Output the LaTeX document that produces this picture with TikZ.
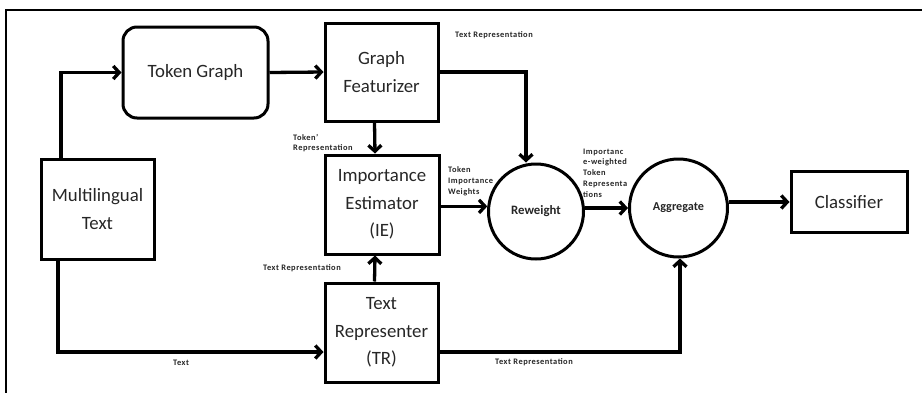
\documentclass[tikz,border=0pt]{standalone}
\usepackage{fontspec}
\setmainfont{Carlito}
\newfontfamily\lblfont[LetterSpace=6]{Carlito}
\usetikzlibrary{arrows.meta}

\begin{document}
\begin{tikzpicture}[x=1pt,y=-1pt,
  every node/.style={text=black!85},
  block/.style={draw, line width=3pt, inner sep=0pt, align=center,
                font=\fontsize{18.8}{27.5}\selectfont},
  roundblock/.style={block, rounded corners=14pt},
  disc/.style={draw, circle, line width=3pt, inner sep=0pt},
  arr/.style={line width=3.3pt, -{Straight Barb[length=6pt,width=13pt]}},
  lbl/.style={anchor=west, inner sep=0pt, align=left,
              font=\lblfont\bfseries\fontsize{8.4}{10.8}\selectfont}]

\useasboundingbox (0,0) rectangle (922,392);

% outer frame
\draw[line width=2.6pt] (6,420) -- (6,10) -- (950,10);

% blocks
\node[roundblock, minimum width=145pt, minimum height=91pt] (tg) at (195.5,72.5) {Token Graph};
\node[block, minimum width=113pt, minimum height=98pt] (gf) at (381.5,72) {Graph\\Featurizer};
\node[block, minimum width=113pt, minimum height=100pt] (mt) at (97.5,209) {Multilingual\\Text};
\node[block, minimum width=114pt, minimum height=99pt] (ie) at (382,204.5) {Importance\\Estimator\\(IE)};
\node[block, minimum width=113pt, minimum height=99pt] (tr) at (381.5,332.5) {Text\\Representer\\(TR)};
\node[disc, minimum size=95pt, font=\bfseries\fontsize{12.8}{14}\selectfont] (rw) at (536,211.5) {Reweight};
\node[disc, minimum size=98pt, font=\bfseries\fontsize{12.2}{14}\selectfont] (ag) at (678.5,208) {Aggregate};
\node[block, minimum width=116pt, minimum height=61pt] (cl) at (849,202) {Classifier};

\coordinate (ybot) at (0,352);

% connectors
\draw[arr] ([xshift=-36.5pt]mt.north) |- (tg.west);
\draw[arr] (tg.east) -- (gf.west);
\draw[arr] (gf.east) -| ([xshift=-10pt]rw.north);
\draw[arr] ([xshift=-7pt]gf.south) -- ([xshift=-7pt]ie.north);
\draw[arr] ([xshift=-7pt]tr.north) -- ([xshift=-7pt]ie.south);
\draw[arr] ([xshift=-39.5pt]mt.south) |- (tr.west |- ybot);
\draw[arr] (ie.east |- rw.174) -- (rw.174);
\draw[arr] (rw.east |- ag.west) -- (ag.west);
\draw[arr] (ag.east |- cl.west) -- (cl.west);
\draw[arr] (tr.east |- ybot) -| ([xshift=1.5pt]ag.south);

% connector labels
\node[lbl] (l1) at (455,35) {Text Representation};
\node[lbl] (l2) at (293,143) {Token’\\Representation};
\node[lbl] (l3) at (448,181) {Token\\Importance\\Weights};
\node[lbl] (l4) at (583,173) {Importanc\\e-weighted\\Token\\Representa\\tions};
\node[lbl] (l5) at (263,268) {Text Representation};
\node[lbl] (l6) at (173,363) {Text};
\node[lbl] (l7) at (495,362) {Text Representation};

\end{tikzpicture}
\end{document}
